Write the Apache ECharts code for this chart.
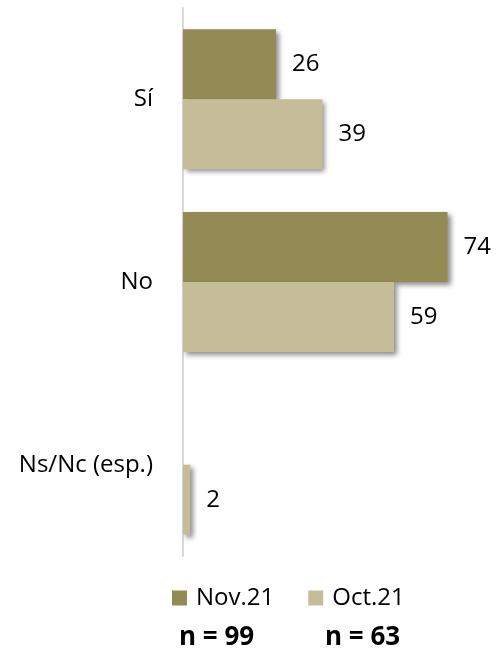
<!DOCTYPE html>
<html>
<head>
<meta charset="utf-8">
<script src="https://cdn.jsdelivr.net/npm/echarts@6/dist/echarts.min.js"></script>
<style>
  html, body { margin: 0; padding: 0; background: #ffffff; }
  #chart { width: 496px; height: 650px; }
</style>
</head>
<body>
<div id="chart"></div>
<script>
// Answer categories (top to bottom)
const categories = ['Sí', 'No', 'Ns/Nc (esp.)'];
// Survey waves
const seriesNames = ['Nov.21', 'Oct.21'];
const nov21 = [26, 74, null];
const oct21 = [39, 59, 2];
// Sample sizes shown under the legend
const sampleLabels = ['n = 99', 'n = 63'];

const colors = ['#948A54', '#C4BD97'];
const FONT = '"Open Sans", "Noto Sans", sans-serif';

const chart = echarts.init(document.getElementById('chart'), null, { renderer: 'canvas' });

function barSeries(name, data, color) {
  return {
    name: name,
    type: 'bar',
    data: data,
    barWidth: 70,
    barGap: '0%',
    itemStyle: {
      color: color,
      shadowColor: 'rgba(0,0,0,0.45)',
      shadowBlur: 5,
      shadowOffsetX: 3,
      shadowOffsetY: 3
    },
    label: {
      show: true,
      position: 'right',
      distance: 16,
      color: '#000000',
      fontFamily: FONT,
      fontSize: 24
    }
  };
}

chart.setOption({
  animation: false,
  grid: { left: 183, top: 8, width: 286, height: 548, containLabel: false },
  xAxis: {
    type: 'value',
    min: 0,
    max: 80,
    show: false
  },
  yAxis: {
    type: 'category',
    data: categories,
    inverse: true,
    axisLine: { show: true, lineStyle: { color: '#D9D9D9', width: 2 } },
    axisTick: { show: false },
    axisLabel: {
      margin: 30,
      color: '#000000',
      fontFamily: FONT,
      fontSize: 24
    }
  },
  legend: {
    data: seriesNames,
    left: 167,
    top: 581,
    itemWidth: 15,
    itemHeight: 15,
    itemGap: 34,
    icon: 'rect',
    textStyle: {
      color: '#000000',
      fontFamily: FONT,
      fontSize: 24,
      padding: [0, 0, 0, 4]
    }
  },
  graphic: sampleLabels.map((t, i) => ({
    type: 'text',
    left: [179, 325][i],
    top: 625,
    style: {
      text: t,
      fill: '#000000',
      font: 'bold 26px ' + FONT
    }
  })),
  series: [
    barSeries(seriesNames[0], nov21, colors[0]),
    barSeries(seriesNames[1], oct21, colors[1])
  ]
});
</script>
</body>
</html>
